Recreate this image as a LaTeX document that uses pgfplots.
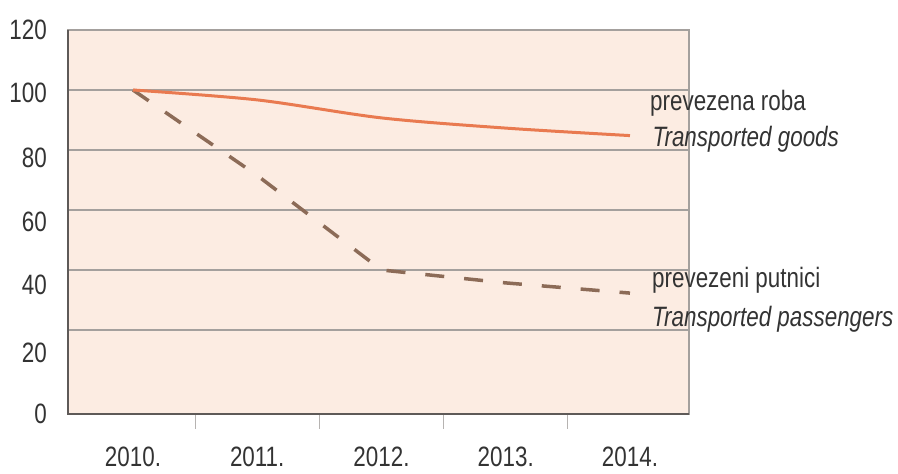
\documentclass[border=0pt]{standalone}
\usepackage{fontspec}
\setmainfont[FakeStretch=0.8]{Liberation Sans}
\usepackage{pgfplots}
\pgfplotsset{compat=1.18}
\definecolor{bgpeach}{HTML}{FCECE2}
\definecolor{goods}{HTML}{E97A50}
\definecolor{pass}{HTML}{8C6B57}
\definecolor{gridc}{HTML}{A4A09D}
\definecolor{axdark}{HTML}{5E5A58}
\definecolor{txt}{HTML}{333333}

\begin{document}
\begin{tikzpicture}
\useasboundingbox (0,0) rectangle (898bp,474bp);
\begin{axis}[
  at={(68bp,60bp)}, anchor=south west,
  scale only axis, width=621bp, height=384bp,
  xmin=-0.523, xmax=4.475, ymin=-8, ymax=120,
  axis background/.style={fill=bgpeach},
  axis line style={gridc, line width=1.2bp},
  clip=false,
  tick label style={font=\fontsize{28bp}{32bp}\selectfont, text=txt},
  xtick={0,...,4},
  xticklabels={2010.,2011.,2012.,2013.,2014.},
  xtick style={draw=none},
  xticklabel style={anchor=north, inner sep=0pt, yshift=-33bp},
  ytick={-8,12.3,35,56,77.3,99,120},
  yticklabels={0,20,40,60,80,100,120},
  ytick style={draw=none},
  yticklabel style={anchor=east, inner sep=0pt, xshift=-21bp},
  major tick length=0pt,
  extra y ticks={20,40,60,80,100},
  extra y tick labels={},
  extra y tick style={grid=major, major grid style={gridc, line width=1.2bp}},
  extra x ticks={0.5,1.5,2.5,3.5},
  extra x tick labels={},
  extra x tick style={tick align=outside, tickpos=left, major tick length=15bp,
    xtick style={draw=gridc!80, line width=1bp}},
]
% passengers
\addplot[pass, line width=3.5bp, dash pattern=on 19bp off 20bp, line join=round]
  coordinates {(0,100) (1,71.5) (2,40) (3,35.7) (4,32.3)};
% goods
\addplot[goods, line width=3bp, smooth]
  coordinates {(0,100) (1,96.7) (2,90.7) (3,87.3) (4,84.8)};
\draw[axdark, line width=1.6bp] (rel axis cs:0,1) -- (rel axis cs:0,0) -- (rel axis cs:1,0);
\node[anchor=base west, inner sep=0pt, text=txt, font=\fontsize{28bp}{32bp}\selectfont]
  at (axis cs:4.161,93.3) {prevezena roba};
\node[anchor=base west, inner sep=0pt, text=txt, font=\fontsize{28bp}{32bp}\selectfont\itshape]
  at (axis cs:4.18,81) {Transported goods};
\node[anchor=base west, inner sep=0pt, text=txt, font=\fontsize{28bp}{32bp}\selectfont]
  at (axis cs:4.177,34) {prevezeni putnici};
\node[anchor=base west, inner sep=0pt, text=txt, font=\fontsize{28bp}{32bp}\selectfont\itshape]
  at (axis cs:4.177,21) {Transported passengers};
\end{axis}
\end{tikzpicture}
\end{document}
